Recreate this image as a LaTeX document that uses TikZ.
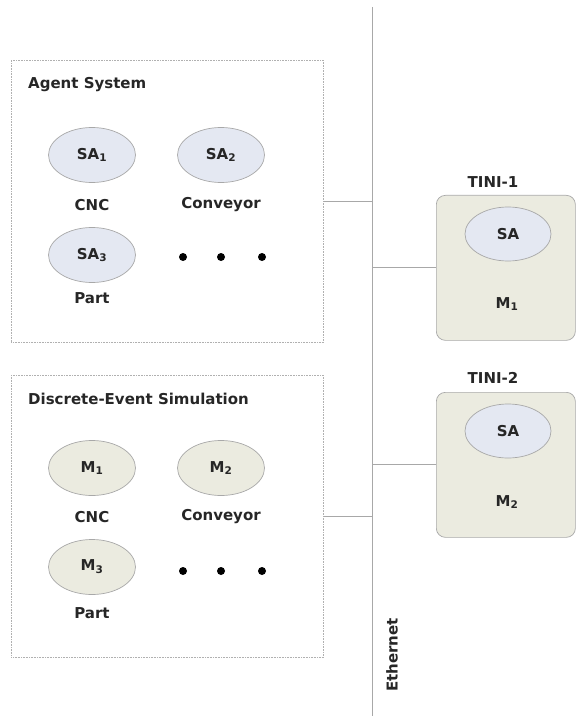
\documentclass[tikz,border=0pt]{standalone}
\usepackage{fontspec}
\setmainfont{DejaVu Sans}
\usetikzlibrary{shapes.geometric}
\definecolor{linegray}{HTML}{A8A8A8}
\definecolor{boxgray}{HTML}{B0B0B0}
\definecolor{sablue}{HTML}{E4E8F2}
\definecolor{mbeige}{HTML}{EBEBE0}
\begin{document}
\begin{tikzpicture}[x=1pt,y=-1pt,
  every node/.style={font=\fontsize{15}{17}\selectfont\bfseries, text=black!85},
  sabub/.style={ellipse, draw=linegray, line width=0.7pt, fill=sablue,
    minimum width=87pt, minimum height=55pt, inner sep=0pt},
  mbub/.style={sabub, fill=mbeige},
  group/.style={draw=boxgray, densely dotted, line width=0.6pt,
    minimum width=312pt, minimum height=282pt, anchor=north west, inner sep=0pt},
  grouptitle/.style={anchor=west, inner sep=0pt},
  wire/.style={draw=linegray, line width=0.8pt},
  tini/.style={draw=linegray, line width=0.7pt, fill=mbeige, rounded corners=9pt,
    minimum width=139pt, minimum height=145pt, anchor=north west, inner sep=0pt},
  blob/.style={circle, fill=black, minimum size=8pt, inner sep=0pt}]
\useasboundingbox (0,0) rectangle (576,719);

% Ethernet backbone
\coordinate (ethtop) at (372,7);
\coordinate (ethbot) at (372,716);
\draw[wire] (ethtop) -- (ethbot);
\node[rotate=90] (ethlabel) at (392,655) {Ethernet};

% Agent system group
\node[group] (agent) at (11,60) {};
\node[grouptitle] (agenttitle) at (28,85) {Agent System};
\node[sabub] (sa1) at (92,155) {SA\textsubscript{1}};
\node[sabub] (sa2) at (221,155) {SA\textsubscript{2}};
\node[sabub] (sa3) at (92,255) {SA\textsubscript{3}};
\node (sa1lbl) at (92,205) {CNC};
\node (sa2lbl) at (221,205) {Conveyor};
\node (sa3lbl) at (92,298) {Part};
\node[blob] (ad1) at (183,257) {};
\node[blob] (ad2) at (221,257) {};
\node[blob] (ad3) at (262,257) {};

% Discrete-event simulation group
\node[group] (des) at (11,375) {};
\node[grouptitle] (destitle) at (28,399) {Discrete-Event Simulation};
\node[mbub] (m1) at (92,468) {M\textsubscript{1}};
\node[mbub] (m2) at (221,468) {M\textsubscript{2}};
\node[mbub] (m3) at (92,567) {M\textsubscript{3}};
\node (m1lbl) at (92,517) {CNC};
\node (m2lbl) at (221,517) {Conveyor};
\node (m3lbl) at (92,613) {Part};
\node[blob] (dd1) at (183,571) {};
\node[blob] (dd2) at (221,571) {};
\node[blob] (dd3) at (262,571) {};

% TINI boards
\node[tini] (tini1) at (436,195) {};
\node (tini1lbl) at (493,182) {TINI-1};
\node[sabub, minimum width=86pt, minimum height=54pt] (tsa1) at (508,234) {SA};
\node (tm1) at (507,304) {M\textsubscript{1}};

\node[tini] (tini2) at (436,392) {};
\node (tini2lbl) at (493,378) {TINI-2};
\node[sabub, minimum width=86pt, minimum height=54pt] (tsa2) at (508,431) {SA};
\node (tm2) at (507,502) {M\textsubscript{2}};

% Taps onto the backbone
\draw[wire] (agent.east) -- (agent.east -| ethtop);
\draw[wire] (des.east) -- (des.east -| ethtop);
\draw[wire] (tini1.west) -- (tini1.west -| ethtop);
\draw[wire] (tini2.west) -- (tini2.west -| ethtop);
\end{tikzpicture}
\end{document}
